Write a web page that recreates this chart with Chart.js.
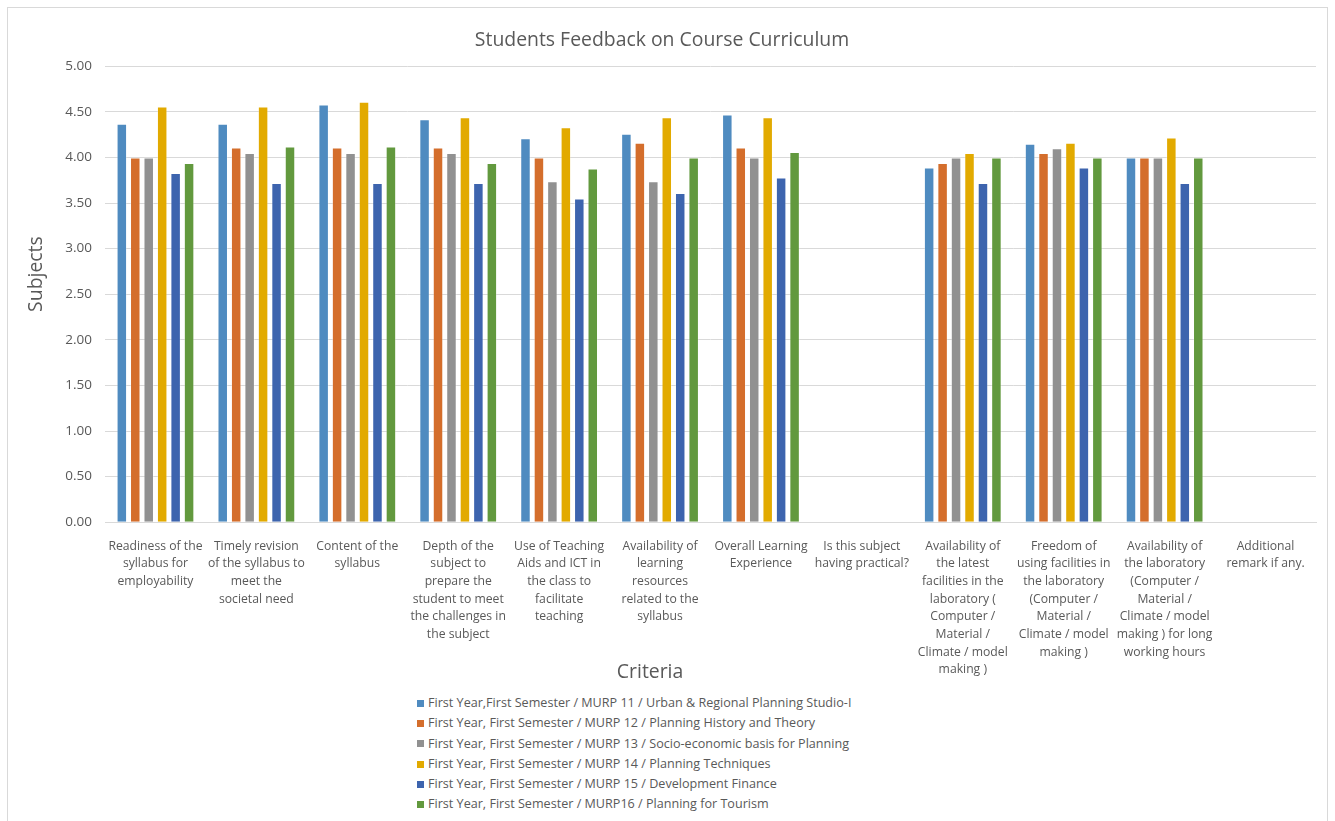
<!DOCTYPE html>
<html>
<head>
<meta charset="utf-8">
<title>Students Feedback on Course Curriculum</title>
<script src="https://cdn.jsdelivr.net/npm/chart.js@4.4.0/dist/chart.umd.min.js"></script>
<style>
  html, body { margin: 0; padding: 0; background: #fff; overflow: hidden; }
  #box {
    position: absolute; left: 7px; top: 7px; width: 1319px; height: 900px;
    border: 1px solid #d9d9d9;
  }
  #chartWrap { position: absolute; left: 0; top: 0; width: 1319px; height: 676px; }
  #legend {
    position: absolute; left: 409px; top: 685px; margin: 0; padding: 0; list-style: none;
    font-family: 'Open Sans', sans-serif; font-size: 12.6px; color: #595959;
  }
  #legend li { height: 20.3px; line-height: 20.3px; display: flex; align-items: center; white-space: nowrap; }
  #legend li span.sw { display: inline-block; width: 7px; height: 7px; margin-right: 4px; }
</style>
</head>
<body>
<div id="box">
  <div id="chartWrap"><canvas id="chart"></canvas></div>
  <ul id="legend"></ul>
</div>
<script>
const categories = [
  ['Readiness of the', 'syllabus for', 'employability'],
  ['Timely revision', 'of the syllabus to', 'meet the', 'societal need'],
  ['Content of the', 'syllabus'],
  ['Depth of the', 'subject to', 'prepare the', 'student to meet', 'the challenges in', 'the subject'],
  ['Use of Teaching', 'Aids and ICT in', 'the class to', 'facilitate', 'teaching'],
  ['Availability of', 'learning', 'resources', 'related to the', 'syllabus'],
  ['Overall Learning', 'Experience'],
  ['Is this subject', 'having practical?'],
  ['Availability of', 'the latest', 'facilities in the', 'laboratory (', 'Computer /', 'Material /', 'Climate / model', 'making )'],
  ['Freedom of', 'using facilities in', 'the laboratory', '(Computer /', 'Material /', 'Climate / model', 'making )'],
  ['Availability of', 'the laboratory', '(Computer /', 'Material /', 'Climate / model', 'making ) for long', 'working hours'],
  ['Additional', 'remark if any.']
];

const seriesNames = [
  'First Year,First Semester / MURP 11 / Urban & Regional Planning Studio-I',
  'First Year, First Semester / MURP 12 / Planning History and Theory',
  'First Year, First Semester / MURP 13 / Socio-economic basis for Planning',
  'First Year, First Semester / MURP 14 / Planning Techniques',
  'First Year, First Semester / MURP 15 / Development Finance',
  'First Year, First Semester / MURP16 / Planning for Tourism'
];

const murp11 = [4.37, 4.37, 4.58, 4.42, 4.21, 4.26, 4.47, null, 3.89, 4.15, 4.00, null];
const murp12 = [4.00, 4.11, 4.11, 4.11, 4.00, 4.16, 4.11, null, 3.94, 4.05, 4.00, null];
const murp13 = [4.00, 4.05, 4.05, 4.05, 3.74, 3.74, 4.00, null, 4.00, 4.10, 4.00, null];
const murp14 = [4.56, 4.56, 4.61, 4.44, 4.33, 4.44, 4.44, null, 4.05, 4.16, 4.22, null];
const murp15 = [3.83, 3.72, 3.72, 3.72, 3.55, 3.61, 3.78, null, 3.72, 3.89, 3.72, null];
const murp16 = [3.94, 4.12, 4.12, 3.94, 3.88, 4.00, 4.06, null, 4.00, 4.00, 4.00, null];

const seriesValues = [murp11, murp12, murp13, murp14, murp15, murp16];
const seriesColors = ['#4f8bc0', '#d46e2c', '#919191', '#e2aa00', '#3d64ae', '#62993e'];

const yTicks = [0, 0.5, 1, 1.5, 2, 2.5, 3, 3.5, 4, 4.5, 5];

const textColor = '#595959';
const gridColor = '#d9d9d9';
const fontFamily = "'Open Sans', sans-serif";

// legend drawn as an html list, built from chart.js's own legend items
const htmlLegend = {
  id: 'htmlLegend',
  afterUpdate(chart) {
    const ul = document.getElementById('legend');
    ul.innerHTML = '';
    const items = chart.options.plugins.legend.labels.generateLabels(chart);
    items.forEach((item) => {
      const li = document.createElement('li');
      const sw = document.createElement('span');
      sw.className = 'sw';
      sw.style.background = item.fillStyle;
      li.appendChild(sw);
      li.appendChild(document.createTextNode(item.text));
      ul.appendChild(li);
    });
  }
};

const ctx = document.getElementById('chart').getContext('2d');
new Chart(ctx, {
  type: 'bar',
  data: {
    labels: categories,
    datasets: seriesNames.map((name, i) => ({
      label: name,
      data: seriesValues[i],
      backgroundColor: seriesColors[i],
      borderColor: 'rgba(255,255,255,0.3)',
      borderWidth: 1,
      categoryPercentage: 0.8,
      barPercentage: 0.78
    }))
  },
  options: {
    responsive: true,
    maintainAspectRatio: false,
    animation: false,
    layout: { padding: { left: 0, right: 11, top: 0, bottom: 0 } },
    plugins: {
      legend: { display: false },
      tooltip: { enabled: false },
      title: {
        display: true,
        text: 'Students Feedback on Course Curriculum',
        color: textColor,
        font: { family: fontFamily, size: 19.4, weight: 'normal', lineHeight: 1.2 },
        padding: { top: 21, bottom: 14 }
      }
    },
    scales: {
      x: {
        grid: { display: false, drawTicks: false },
        border: { display: true, color: gridColor, width: 1 },
        ticks: {
          color: textColor,
          font: { family: fontFamily, size: 12.2, lineHeight: 1.45 },
          padding: 15,
          maxRotation: 0,
          minRotation: 0,
          autoSkip: false
        },
        title: {
          display: true,
          text: 'Criteria' + ' '.repeat(24),
          color: textColor,
          font: { family: fontFamily, size: 19.4, lineHeight: 1.2 },
          padding: { top: -33, bottom: 0 }
        }
      },
      y: {
        min: 0,
        max: 5,
        afterFit: (scale) => { scale.width = 97; },
        afterBuildTicks: (scale) => { scale.ticks = yTicks.map((v) => ({ value: v })); },
        grid: { color: gridColor, lineWidth: 1, drawTicks: false },
        border: { display: false },
        ticks: {
          color: textColor,
          font: { family: fontFamily, size: 13.5 },
          padding: 13,
          callback: (v) => Number(v).toFixed(2)
        },
        title: {
          display: true,
          text: ' '.repeat(8) + 'Subjects',
          color: textColor,
          font: { family: fontFamily, size: 19.4, lineHeight: 1.2 },
          padding: { top: 17, bottom: 0 }
        }
      }
    }
  },
  plugins: [htmlLegend]
});
</script>
</body>
</html>
